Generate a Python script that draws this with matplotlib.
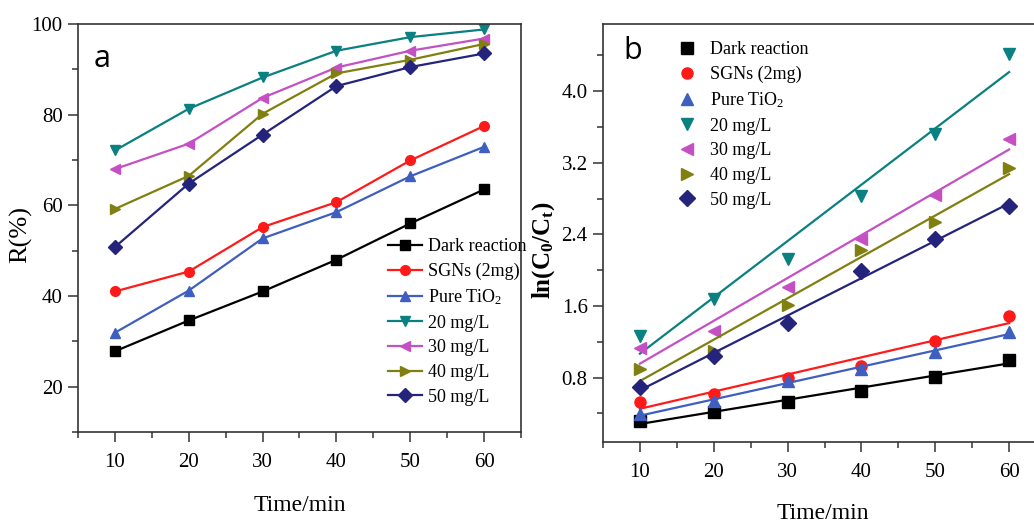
import numpy as np
import matplotlib
matplotlib.use("Agg")
import matplotlib.pyplot as plt
from matplotlib.ticker import MultipleLocator, FormatStrFormatter

plt.rcParams['font.family'] = ['Liberation Serif', 'DejaVu Serif']
plt.rcParams['mathtext.fontset'] = 'custom'
plt.rcParams['mathtext.rm'] = 'Liberation Serif'
plt.rcParams['mathtext.it'] = 'Liberation Serif:italic'
plt.rcParams['mathtext.bf'] = 'Liberation Serif:bold'

# ---------------- data ----------------
time = [10, 20, 30, 40, 50, 60]
labels = ['Dark reaction', 'SGNs (2mg)', 'Pure TiO$_2$',
          '20 mg/L', '30 mg/L', '40 mg/L', '50 mg/L']
colors = ['#000000', '#ff1a1a', '#3f5fc0', '#0a8080', '#c450c4', '#808010', '#24247c']
markers = ['s', 'o', '^', 'v', '<', '>', 'D']

# panel a: removal R(%)
r_dark = [27.8, 34.6, 41.0, 48.0, 56.0, 63.5]
r_sgn = [41.0, 45.4, 55.2, 60.7, 69.9, 77.5]
r_tio2 = [31.9, 41.2, 52.7, 58.5, 66.4, 72.9]
r_20 = [72.1, 81.3, 88.2, 94.1, 97.1, 98.8]
r_30 = [68.0, 73.6, 83.7, 90.4, 94.1, 96.8]
r_40 = [59.2, 66.5, 80.2, 89.1, 92.1, 95.6]
r_50 = [50.8, 64.8, 75.6, 86.3, 90.5, 93.5]

# panel b: ln(C0/Ct)
k_dark = [0.31, 0.42, 0.53, 0.65, 0.81, 1.00]
k_sgn = [0.53, 0.62, 0.80, 0.93, 1.21, 1.49]
k_tio2 = [0.39, 0.54, 0.76, 0.89, 1.09, 1.31]
k_20 = [1.26, 1.68, 2.13, 2.83, 3.52, 4.42]
k_30 = [1.13, 1.32, 1.81, 2.35, 2.84, 3.46]
k_40 = [0.89, 1.10, 1.61, 2.22, 2.54, 3.14]
k_50 = [0.70, 1.04, 1.41, 1.99, 2.35, 2.72]

r_all = [r_dark, r_sgn, r_tio2, r_20, r_30, r_40, r_50]
k_all = [k_dark, k_sgn, k_tio2, k_20, k_30, k_40, k_50]

W, H = 1034, 522
fig = plt.figure(figsize=(W / 100, H / 100), dpi=100)
fig.patch.set_facecolor('white')

def px_axes(l, t, r, b):
    return fig.add_axes([l / W, 1 - b / H, (r - l) / W, (b - t) / H])

def style(ax):
    for s in ax.spines.values():
        s.set_linewidth(1.2)
        s.set_color('#333333')
    ax.tick_params(which='major', direction='out', length=7, width=1.1,
                   labelsize=15, colors='#333333', labelcolor='black')
    ax.tick_params(which='minor', direction='out', length=4, width=1.1, colors='#333333')
    ax.tick_params(top=False, right=False, which='both')
    ax.tick_params(axis='x', pad=8)
    ax.tick_params(axis='y', pad=4)

# ---------------- panel a ----------------
ax1 = px_axes(78, 24, 521, 432)
for y, lab, c, m in zip(r_all, labels, colors, markers):
    ax1.plot(time, y, color=c, marker=m, markersize=7, linewidth=1.6, label=lab)
ax1.set_xlim(5, 65)
ax1.set_ylim(10, 100)
ax1.xaxis.set_major_locator(MultipleLocator(10))
ax1.xaxis.set_minor_locator(MultipleLocator(5))
ax1.yaxis.set_major_locator(MultipleLocator(20))
ax1.yaxis.set_minor_locator(MultipleLocator(10))
style(ax1)
ax1.set_xlabel('Time/min', fontsize=17)
ax1.set_ylabel('R(%)', fontsize=19)
ax1.xaxis.set_label_coords(0.50, -0.155)
ax1.yaxis.set_label_coords(-0.104, 0.483)
ax1.text(0.055, 0.915, 'a', transform=ax1.transAxes, fontsize=22,
         family='Open Sans', ha='center', va='center')
ax1.legend(loc='upper left', bbox_to_anchor=(388 / W, 1 - 238 / H),
           bbox_transform=fig.transFigure, frameon=False, fontsize=13,
           handlelength=1.9, handletextpad=0.3, labelspacing=0.42,
           borderpad=0, borderaxespad=0)

# ---------------- panel b ----------------
ax2 = px_axes(603, 24, 1046, 442)
for y, lab, c, m in zip(k_all, labels, colors, markers):
    ax2.plot(time, y, linestyle='none', color=c, marker=m, markersize=8, label=lab)
    slope, icpt = np.polyfit(time, y, 1)
    fit = np.polyval([slope, icpt], np.array(time, dtype=float))
    ax2.plot(time, fit, color=c, linewidth=1.6)
ax2.set_xlim(5, 65)
ax2.set_ylim(0.08, 4.75)
ax2.xaxis.set_major_locator(MultipleLocator(10))
ax2.xaxis.set_minor_locator(MultipleLocator(5))
ax2.yaxis.set_major_locator(MultipleLocator(0.8))
ax2.yaxis.set_minor_locator(MultipleLocator(0.4))
ax2.yaxis.set_major_formatter(FormatStrFormatter('%.1f'))
style(ax2)
ax2.set_xlabel('Time/min', fontsize=17)
ax2.set_ylabel(r'$\mathbf{ln(C_0/C_t)}$', fontsize=18)
ax2.xaxis.set_label_coords(0.497, -0.145)
ax2.yaxis.set_label_coords(-0.104, 0.459)
ax2.text(0.068, 0.935, 'b', transform=ax2.transAxes, fontsize=22,
         family='Open Sans', ha='center', va='center')
ax2.legend(loc='upper left', bbox_to_anchor=(676 / W, 1 - 41 / H),
           bbox_transform=fig.transFigure, frameon=False, fontsize=13,
           handlelength=1.2, handletextpad=0.7, labelspacing=0.42,
           borderpad=0, borderaxespad=0, numpoints=1)

fig.savefig('out.png', dpi=100)
